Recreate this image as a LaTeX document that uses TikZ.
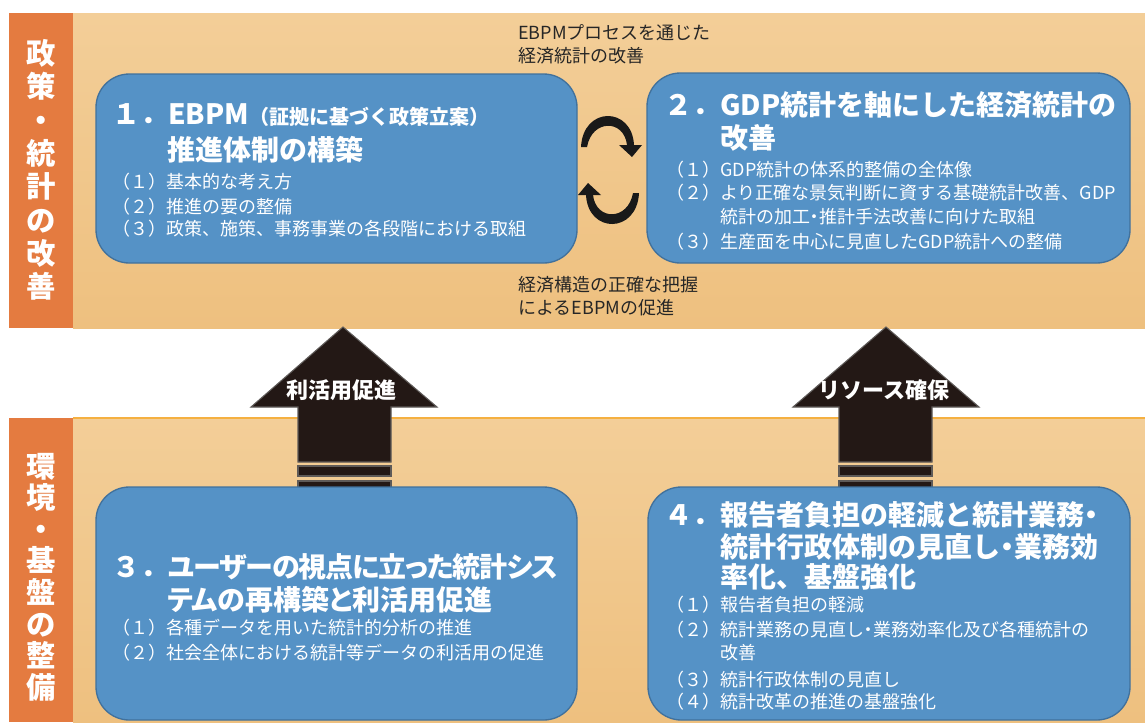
\documentclass[tikz,border=0pt]{standalone}
\usepackage{fontspec}
\setmainfont{Noto Sans CJK JP}
\newcommand\prop[1]{{\addfontfeature{RawFeature=+palt}#1}}
\definecolor{boxblue}{HTML}{5592C6}
\definecolor{boxline}{HTML}{41719C}
\definecolor{sideorange}{HTML}{E47B40}
\definecolor{beigetop}{HTML}{F3CE98}
\definecolor{beigebot}{HTML}{EEC07F}
\definecolor{orangeline}{HTML}{F5B041}
\definecolor{arrowdark}{HTML}{231815}
\definecolor{arrowedge}{HTML}{5E5A58}
\begin{document}
\begin{tikzpicture}[x=0.75pt,y=-0.75pt,
  box/.style={draw=boxline,fill=boxblue,line width=1pt,rounded corners=25pt},
  ttl/.style={anchor=west,inner sep=0,text=white,font=\fontsize{21}{21}\selectfont\bfseries},
  itm/.style={anchor=west,inner sep=0,text=white,font=\fontsize{13.5}{13.5}\selectfont},
  mid/.style={anchor=west,inner sep=0,text=black!85,font=\fontsize{13.5}{13.5}\selectfont},
  side/.style={text=white,align=center,inner sep=0},
  bigarrow/.style={fill=arrowdark,draw=arrowedge,line width=0.8pt},
  cycarrow/.style={fill=black!90},
  alabel/.style={text=white,font=\fontsize{16.5}{16.5}\selectfont\bfseries,inner sep=0}]

\useasboundingbox (0,0) rectangle (1145,722);
\fill[white] (0,0) rectangle (1145,722);

% bands
\shade[top color=beigetop,bottom color=beigebot] (73,13) rectangle (1145,328);
\shade[top color=beigetop,bottom color=beigebot] (73,418) rectangle (1145,722);
\draw[orangeline,line width=1pt] (73,418) -- (1145,418);
\fill[sideorange] (9,13) rectangle (73,328);
\fill[sideorange] (9,418) rectangle (73,722);

\node[side,font=\fontsize{22}{25}\selectfont\bfseries] (s1) at (41,170) {政\\策\\・\\統\\計\\の\\改\\善};
\node[side,font=\fontsize{22}{23.7}\selectfont\bfseries] (s2) at (41,577) {環\\境\\・\\基\\盤\\の\\整\\備};

% block arrows
\draw[bigarrow] (343,327) -- (437,407) -- (391,407) -- (391,462) -- (298,462) -- (298,407) -- (251,407) -- cycle;
\draw[bigarrow] (298,466) rectangle (391,476);
\draw[bigarrow] (298,481) rectangle (391,489);
\draw[bigarrow] (886,327) -- (979,407) -- (932,407) -- (932,462) -- (839,462) -- (839,407) -- (793,407) -- cycle;
\draw[bigarrow] (839,466) rectangle (932,476);
\draw[bigarrow] (839,481) rectangle (932,489);
\node[alabel] (a1) at (341,390) {利活用促進};
\node[alabel] (a2) at (884,390) {リソース確保};

% boxes
\draw[box] (96,74) rectangle (577,263);
\draw[box] (647,73) rectangle (1130,263);
\draw[box] (96,487) rectangle (577,720);
\draw[box] (648,487) rectangle (1130,720);

% cycle arrows
\fill[cycarrow] (581,147) .. controls (583,106) and (632,106) .. (634,145) -- (642,145) -- (632,157) -- (619,145) -- (627,145) .. controls (624,119) and (592,119) .. (587,147) -- cycle;
\fill[cycarrow] (639,193) .. controls (637,234) and (588,234) .. (586,195) -- (578,195) -- (588,183) -- (601,195) -- (593,195) .. controls (596,221) and (628,221) .. (633,193) -- cycle;

% middle texts
\node[mid] (m1) at (518,33) {EBPMプロセスを通じた};
\node[mid] (m2) at (518,56) {経済統計の改善};
\node[mid] (m3) at (518,285) {経済構造の正確な把握};
\node[mid] (m4) at (518,308) {によるEBPMの促進};

% box 1
\node[ttl] (t1a) at (112,115) {１．EBPM{\fontsize{15}{15}\selectfont（証拠に基づく政策立案）}};
\node[ttl] (t1b) at (167,150) {推進体制の構築};
\node[itm] (i1a) at (112,182) {（１）基本的な考え方};
\node[itm] (i1b) at (112,207) {（２）推進の要の整備};
\node[itm] (i1c) at (112,229) {（３）政策、施策、事務事業の各段階における取組};

% box 2
\node[ttl] (t2a) at (664,105) {２．GDP統計を軸にした経済統計の};
\node[ttl] (t2b) at (720,138) {改善};
\node[itm] (i2a) at (666,170) {（１）GDP統計の体系的整備の全体像};
\node[itm] (i2b) at (666,193) {（２）より正確な景気判断に資する基礎統計改善、GDP};
\node[itm] (i2c) at (720,217) {統計の加工\prop{・}推計手法改善に向けた取組};
\node[itm] (i2d) at (666,242) {（３）生産面を中心に見直したGDP統計への整備};

% box 3
\node[ttl] (t3a) at (112,567) {３．{\addfontfeature{RawFeature=+palt,LetterSpace=-4}ユーザーの視点に立った統計シス}};
\node[ttl] (t3b) at (167,600) {\prop{テムの再構築と利活用促進}};
\node[itm] (i3a) at (112,628) {（１）各種データを用いた統計的分析の推進};
\node[itm] (i3b) at (112,653) {（２）社会全体における統計等データの利活用の促進};

% box 4
\node[ttl] (t4a) at (664,515) {４．報告者負担の軽減と統計業務\prop{・}};
\node[ttl] (t4b) at (720,547) {統計行政体制の見直し\prop{・}業務効};
\node[ttl] (t4c) at (720,577) {率化、基盤強化};
\node[itm] (i4a) at (666,605) {（１）報告者負担の軽減};
\node[itm] (i4b) at (666,630) {（２）統計業務の見直し\prop{・}業務効率化及び各種統計の};
\node[itm] (i4c) at (720,653) {改善};
\node[itm] (i4d) at (666,680) {（３）統計行政体制の見直し};
\node[itm] (i4e) at (666,702) {（４）統計改革の推進の基盤強化};
\end{tikzpicture}
\end{document}
